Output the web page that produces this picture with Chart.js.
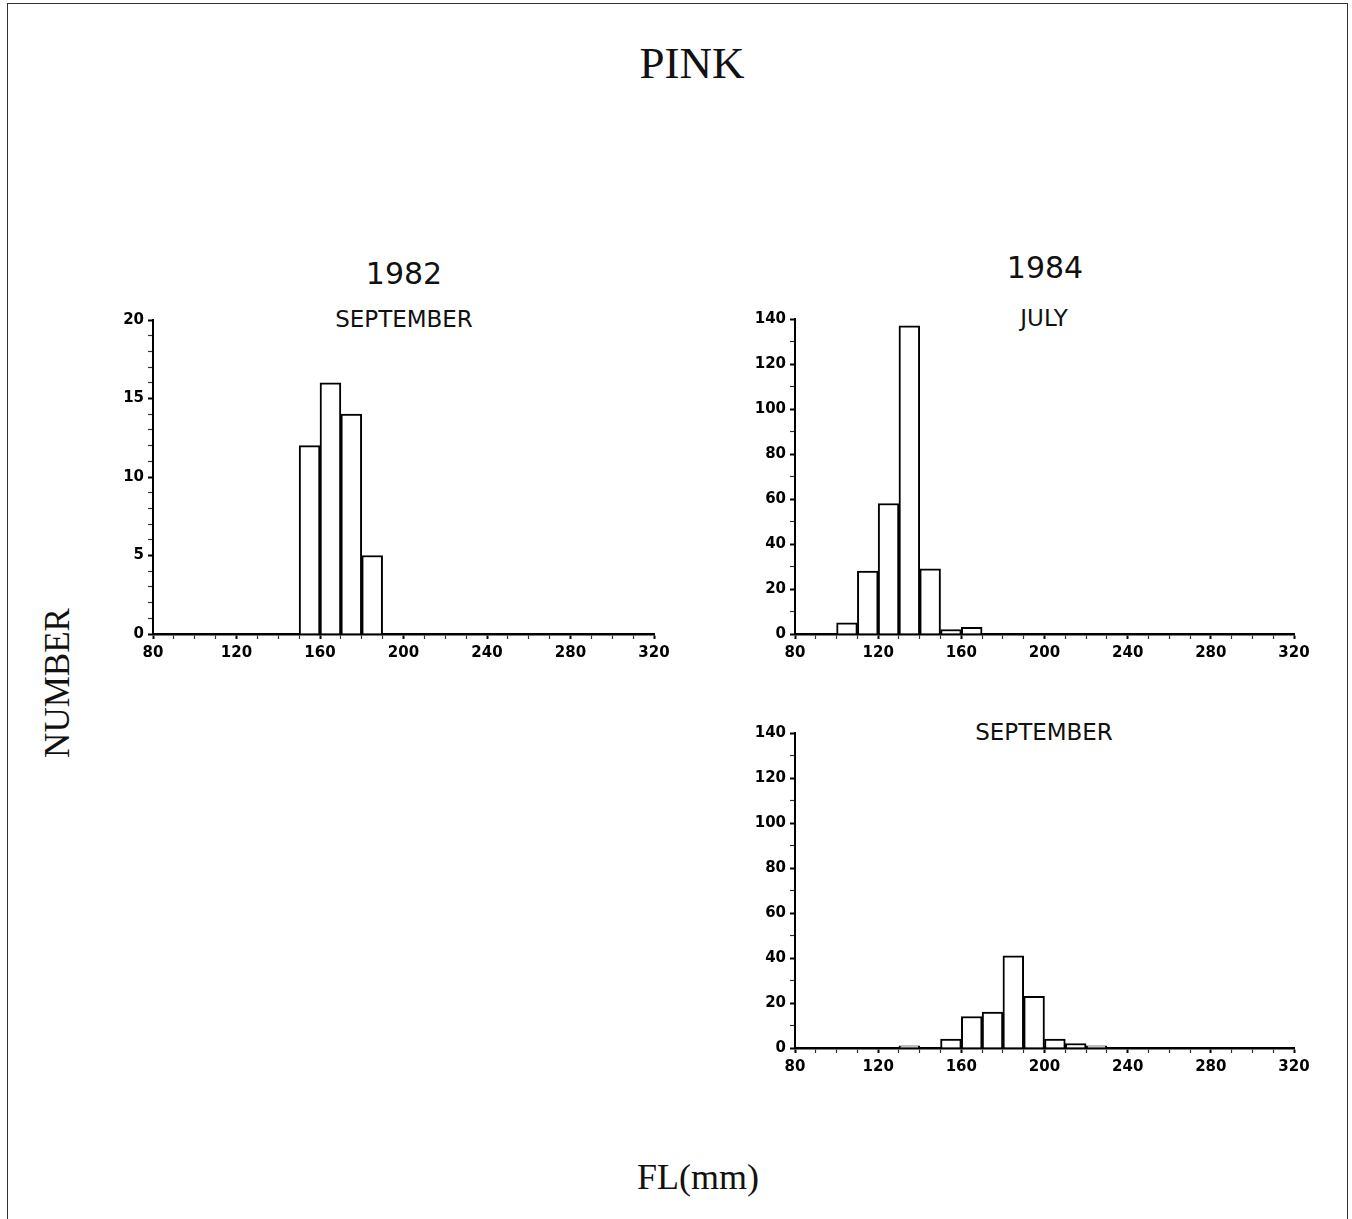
<!DOCTYPE html>
<html>
<head>
<meta charset="utf-8">
<script src="https://cdn.jsdelivr.net/npm/chart.js@4.4.0/dist/chart.umd.min.js"></script>
<style>
  html, body { margin: 0; padding: 0; background: #fff; }
  body { width: 1352px; height: 1219px; position: relative; overflow: hidden; }
  .frame { position: absolute; left: 7px; top: 3px; width: 1339px; height: 1240px; border: 1.5px solid #333; border-bottom: none; }
  .lbl { position: absolute; transform: translate(-50%, -50%); white-space: nowrap; line-height: 1; color: #111; }
  .serif { font-family: 'Liberation Serif', 'Times New Roman', serif; }
  .sans { font-family: 'DejaVu Sans', sans-serif; }
  .panel { position: absolute; }
  .panel canvas { display: block; }
</style>
</head>
<body>
<div class="frame"></div>

<div class="lbl serif" style="left:692px; top:63px; font-size:45px;">PINK</div>
<div class="lbl sans" style="left:404px; top:274px; font-size:30px;">1982</div>
<div class="lbl sans" style="left:404px; top:319px; font-size:23px;">SEPTEMBER</div>
<div class="lbl sans" style="left:1045px; top:268px; font-size:30px;">1984</div>
<div class="lbl sans" style="left:1044px; top:318px; font-size:23px;">JULY</div>
<div class="lbl sans" style="left:1044px; top:732px; font-size:23px;">SEPTEMBER</div>
<div class="lbl serif" style="left:57px; top:683px; font-size:35px; transform:translate(-50%,-50%) rotate(-90deg);">NUMBER</div>
<div class="lbl serif" style="left:698px; top:1177px; font-size:36px;">FL(mm)</div>

<div class="panel" style="left:88px; top:305px;"><canvas id="sep82" width="591" height="369"></canvas></div>
<div class="panel" style="left:730px; top:304px;"><canvas id="jul84" width="589" height="370"></canvas></div>
<div class="panel" style="left:730px; top:718px;"><canvas id="sep84" width="589" height="370"></canvas></div>

<script>
// FL (mm) histograms, 10 mm bins, bin start values
const binWidth = 10;
const xMin = 80, xMax = 320;
const xTickLabels = [80, 120, 160, 200, 240, 280, 320];

// 1982 September
const sep82Bins = [150, 160, 170, 180];
const sep82Counts = [12, 16, 14, 5];
const sep82YTicks = [0, 5, 10, 15, 20];

// 1984 July
const jul84Bins = [100, 110, 120, 130, 140, 150, 160];
const jul84Counts = [5, 28, 58, 137, 29, 2, 3];

// 1984 September
const sep84Bins = [130, 140, 150, 160, 170, 180, 190, 200, 210, 220];
const sep84Counts = [1, 0, 4, 14, 16, 41, 23, 4, 2, 1];

const y84Ticks = [0, 20, 40, 60, 80, 100, 120, 140];

const tickFont = { family: 'DejaVu Sans', weight: 'bold', size: 15 };

function axisGrid(labels) {
  return {
    drawOnChartArea: false,
    drawTicks: true,
    tickLength: 5,
    offset: false,
    tickColor: (ctx) => labels.includes(ctx.tick.value) ? '#000' : '#333',
    tickWidth: (ctx) => labels.includes(ctx.tick.value) ? 2 : 1.2
  };
}

function createHistogram(canvasId, bins, counts, yMax, yStep, yLabels) {
  const ctx = document.getElementById(canvasId).getContext('2d');
  return new Chart(ctx, {
    type: 'bar',
    data: {
      datasets: [{
        data: bins.map((b, i) => ({ x: b + binWidth / 2, y: counts[i] })),
        backgroundColor: '#fff',
        borderColor: '#000',
        borderWidth: 2,
        barPercentage: 1,
        categoryPercentage: 1
      }]
    },
    options: {
      responsive: false,
      animation: false,
      layout: { padding: { top: 15, left: 10, right: 25, bottom: 10 } },
      plugins: { legend: { display: false }, tooltip: { enabled: false } },
      scales: {
        x: {
          type: 'linear',
          min: xMin,
          max: xMax,
          offset: false,
          grid: axisGrid(xTickLabels),
          border: { display: true, color: '#000', width: 2.5 },
          ticks: {
            stepSize: binWidth,
            autoSkip: false,
            maxRotation: 0,
            padding: 5,
            color: '#000',
            font: tickFont,
            callback: (v) => xTickLabels.includes(v) ? String(v) : ''
          },
          afterFit: (s) => { s.height = 30; s.paddingLeft = 0; s.paddingRight = 0; }
        },
        y: {
          type: 'linear',
          min: 0,
          max: yMax,
          grid: axisGrid(yLabels),
          border: { display: true, color: '#000', width: 2 },
          ticks: {
            stepSize: yStep,
            autoSkip: false,
            padding: 4,
            color: '#000',
            font: tickFont,
            callback: (v) => yLabels.includes(v) ? String(v) : ''
          },
          afterFit: (s) => { s.width = 55; s.paddingTop = 0; s.paddingBottom = 0; }
        }
      }
    }
  });
}

createHistogram('sep82', sep82Bins, sep82Counts, 20, 1, sep82YTicks);
createHistogram('jul84', jul84Bins, jul84Counts, 140, 10, y84Ticks);
createHistogram('sep84', sep84Bins, sep84Counts, 140, 10, y84Ticks);
</script>
</body>
</html>
